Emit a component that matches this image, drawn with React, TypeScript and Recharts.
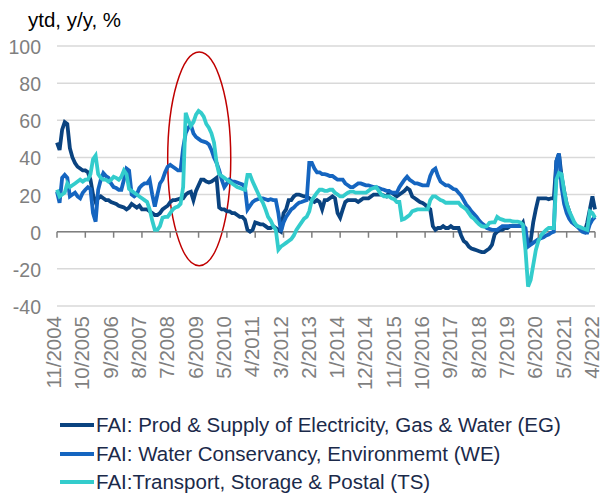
import { LineChart, Line, XAxis, YAxis, CartesianGrid, ReferenceLine, ReferenceArea } from 'recharts';

const tickLabels = [
  '11/2004', '10/2005', '9/2006', '8/2007', '7/2008', '6/2009', '5/2010', '4/2011', '3/2012', '2/2013',
  '1/2014', '12/2014', '11/2015', '10/2016', '9/2017', '8/2018', '7/2019', '6/2020', '5/2021', '4/2022',
];

// monthly ytd y/y %, 11/2004 .. 4/2022
const eg = [
  48, 44, 55, 59, 58, 45, 40, 37, 35, 34,
  33, 33, 32, 28, 20, 16, 18, 19, 18, 17,
  17, 16, 15.5, 15, 14, 13.5, 13, 12, 13, 15,
  14, 13, 14, 12, 12, 12, 11, 10, 9, 9,
  10, 12, 13, 14, 16, 17, 17, 17.5, 18, 18,
  20, 21, 21.5, 17, 22, 25, 28, 28, 27, 26.5,
  27, 28, 29, 13, 12, 12, 11, 11, 10, 10,
  9, 8, 8, 6.5, 1, 0, 1, 5, 4.5, 4,
  4, 3, 2, 2, 3, 2, 1, 0, 10, 12,
  17, 17, 19, 20, 20, 19.5, 19, 19, 18, 17,
  16, 17, 16, 12, 17, 17, 18, 19, 18, 10,
  7.5, 12, 16, 17, 17, 17, 17, 16, 17, 18,
  18, 18, 19, 20, 20, 20, 20, 19.5, 19, 21,
  21, 20, 19, 20, 21, 22, 23.5, 22.5, 19, 18,
  17, 16, 15.5, 14.5, 13, 12, 3, 1, 2, 2,
  3, 2, 2, 3, 2, 2, 2, -2, -5, -6,
  -8, -9, -9.5, -10, -10.5, -11, -11, -10, -9, -7,
  -1.5, 0, 1, 1, 2, 2, 3, 3, 3, 3,
  3, 5, -2, -6, -5, 5, 12, 18, 18, 18,
  18, 17.5, 18, 18, 38, 42, 30, 22, 15, 11,
  6.5, 4, 3, 2, 1, 0, 5, 12, 19, 12,
];

const we = [
  21.5, 15.6, 29, 30.6, 29, 19, 20, 21, 19, 18,
  21, 22.6, 24, 23, 10, 5.4, 22.6, 28, 31.6, 30,
  29, 26, 24, 23.5, 22.6, 22.6, 28, 34, 33, 20,
  19, 20, 23.5, 25, 26, 26, 28, 20, 13.5, 20,
  26, 28, 32, 35, 36, 35, 34, 33, 33, 45,
  53, 56, 57.5, 53, 51, 50, 49, 48.5, 48, 47,
  44, 40, 37, 33, 28, 24, 26, 28, 27, 27,
  26.5, 26, 25.5, 24, 12, 14, 16, 17, 17.5, 18,
  18, 17.5, 17, 17.5, 17, 17, 10, 0, 5, 8,
  10, 12, 13, 14.5, 15.6, 16, 16.5, 17, 37, 37,
  34, 32, 32, 31, 31, 30.6, 30, 30, 29, 28,
  28, 28, 26, 25, 24, 24, 25, 26, 26, 25.5,
  25, 25, 24.5, 24, 24, 23.5, 23, 22.6, 22, 22,
  21, 21, 21, 24, 26, 28, 29.6, 28, 27, 26,
  26, 25.5, 25, 25, 25, 30, 33, 34, 30, 27,
  26, 25, 25, 24, 23, 22.6, 21, 19.5, 17, 14.5,
  13, 11, 9.5, 8, 6, 4.5, 3.5, 2, 1.5, 1,
  1, 1, 2, 3, 3, 3, 3, 3, 3, 3,
  3, 3, 2, -8, -7, -6, -5, -4, -3.5, -3,
  -2, -1.5, -0.5, 0, 38, 42, 24, 15, 10, 7,
  5, 4, 3, 1.5, 0, -0.5, -0.5, 4, 6.5, 8,
];

const ts = [
  22.6, 19, 20, 21, 26, 24, 25, 26, 27, 28,
  27, 28, 28, 31, 39, 41, 31, 29, 28, 28,
  27, 28, 29.6, 29, 28, 29.6, 33, 31, 23, 22,
  21, 20, 19, 18, 17, 16, 12, 6, 1, 1,
  3, 7.5, 8, 8, 10, 12, 13, 13.5, 15, 24,
  64, 60, 57, 59, 63, 65, 64, 62, 58, 56,
  53, 48, 37, 31, 30, 29, 28, 27, 26, 25,
  24, 23.5, 23, 22.6, 30.6, 30.6, 27, 24, 21, 18,
  15.6, 12, 8, 6, 3, 1, -9.7, -8, -7, -6,
  -5, -4, -2, 1, 3, 5, 7, 8, 11, 17,
  19, 21, 22.6, 22.6, 22, 22, 22.6, 22.6, 21, 20,
  19, 19, 20, 21, 21.6, 21.6, 21, 21, 21, 21,
  21, 22, 23, 23.5, 24, 22, 20, 19, 19, 19,
  18, 17.5, 16, 16, 6.5, 7, 8, 9, 11, 11.5,
  12, 12, 12, 12, 12, 17, 19, 19, 18, 17,
  16.5, 15.6, 15.6, 15.6, 15.6, 15.6, 15.6, 14, 13, 12,
  10, 8, 7, 5.4, 4, 3, 2.7, 3, 4.8, 5,
  5, 8, 7, 6.5, 6, 6, 6, 5.5, 5.4, 5.4,
  5, 3.8, -10, -29.5, -26, -18, -10, -5, -2, -0.5,
  1, 2, 2, 2, 28, 31.6, 31, 22, 15, 11,
  8, 5, 3, 2.7, 2, 1.5, 1, 11, 10, 7.5,
];

const seriesNames = [
  'FAI: Prod & Supply of Electricity, Gas & Water (EG)',
  'FAI: Water Conservancy, Environmemt (WE)',
  'FAI:Transport, Storage & Postal (TS)',
];
const colors = ['#0a4380', '#1565c0', '#33cccc'];

const data = eg.map((v, i) => ({ i, eg: v, we: we[i], ts: ts[i] }));
const xTicks = tickLabels.map((_, k) => k * 11);

const W = 605;
const H = 493;
const TOP = 46;
const PLOT_H = 260;
const Y_MIN = -40;
const Y_MAX = 100;
const zeroY = TOP + (PLOT_H * Y_MAX) / (Y_MAX - Y_MIN);
const font = 'Liberation Sans, Arial, sans-serif';

const XTick = (props: any) => {
  const { x, payload } = props;
  return (
    <g>
      <line x1={x} x2={x} y1={zeroY} y2={zeroY + 6} stroke="#7f7f7f" strokeWidth={1.5} />
      <text
        transform={`translate(${x + 4}, 316) rotate(-90)`}
        textAnchor="end"
        fontSize={20.5}
        fontFamily={font}
        fill="#7f7f7f"
      >
        {tickLabels[Math.round(payload.value / 11)]}
      </text>
    </g>
  );
};

const YTick = (props: any) => {
  const { y, payload } = props;
  return (
    <text x={41} y={y} dy={8} textAnchor="end" fontSize={19.5} fontFamily={font} fill="#7f7f7f">
      {payload.value}
    </text>
  );
};

const Ellipse = (p: any) => (
  <ellipse
    cx={p.x + p.width / 2}
    cy={p.y + p.height / 2}
    rx={p.width / 2}
    ry={p.height / 2}
    fill="none"
    stroke="#c00000"
    strokeWidth={1.5}
  />
);

export default function App() {
  return (
    <div style={{ position: 'absolute', left: 0, top: 0, width: W, height: H, fontFamily: font }}>
      <div style={{ position: 'absolute', left: 28, top: 8, fontSize: 20.5, color: '#000' }}>ytd, y/y, %</div>
      <LineChart width={W} height={H} data={data} margin={{ top: TOP, right: 10, left: 7, bottom: 107 }}>
        <CartesianGrid vertical={false} stroke="#d9d9d9" strokeWidth={1.5} />
        <XAxis
          dataKey="i"
          type="number"
          domain={[0, 209]}
          ticks={xTicks}
          interval={0}
          axisLine={false}
          tickLine={false}
          height={80}
          tick={<XTick />}
        />
        <YAxis
          domain={[Y_MIN, Y_MAX]}
          ticks={[-40, -20, 0, 20, 40, 60, 80, 100]}
          axisLine={false}
          tickLine={false}
          width={50}
          tick={<YTick />}
        />
        <ReferenceLine y={0} stroke="#7f7f7f" strokeWidth={1.5} />
        <Line dataKey="eg" stroke={colors[0]} strokeWidth={3.8} dot={false} isAnimationActive={false} />
        <Line dataKey="we" stroke={colors[1]} strokeWidth={3.8} dot={false} isAnimationActive={false} />
        <Line dataKey="ts" stroke={colors[2]} strokeWidth={3.8} dot={false} isAnimationActive={false} />
        <ReferenceArea x1={43} x2={67.5} y1={-18.3} y2={96.8} shape={<Ellipse />} ifOverflow="visible" />
      </LineChart>
      {seriesNames.map((name, k) => (
        <div
          key={name}
          style={{
            position: 'absolute',
            left: 60,
            top: 413 + k * 28.5,
            height: 24,
            display: 'flex',
            alignItems: 'center',
            fontSize: 20.5,
            color: '#1b2a4a',
            whiteSpace: 'nowrap',
          }}
        >
          <span style={{ display: 'inline-block', width: 34, height: 4, background: colors[k], marginRight: 2 }} />
          {name}
        </div>
      ))}
    </div>
  );
}
